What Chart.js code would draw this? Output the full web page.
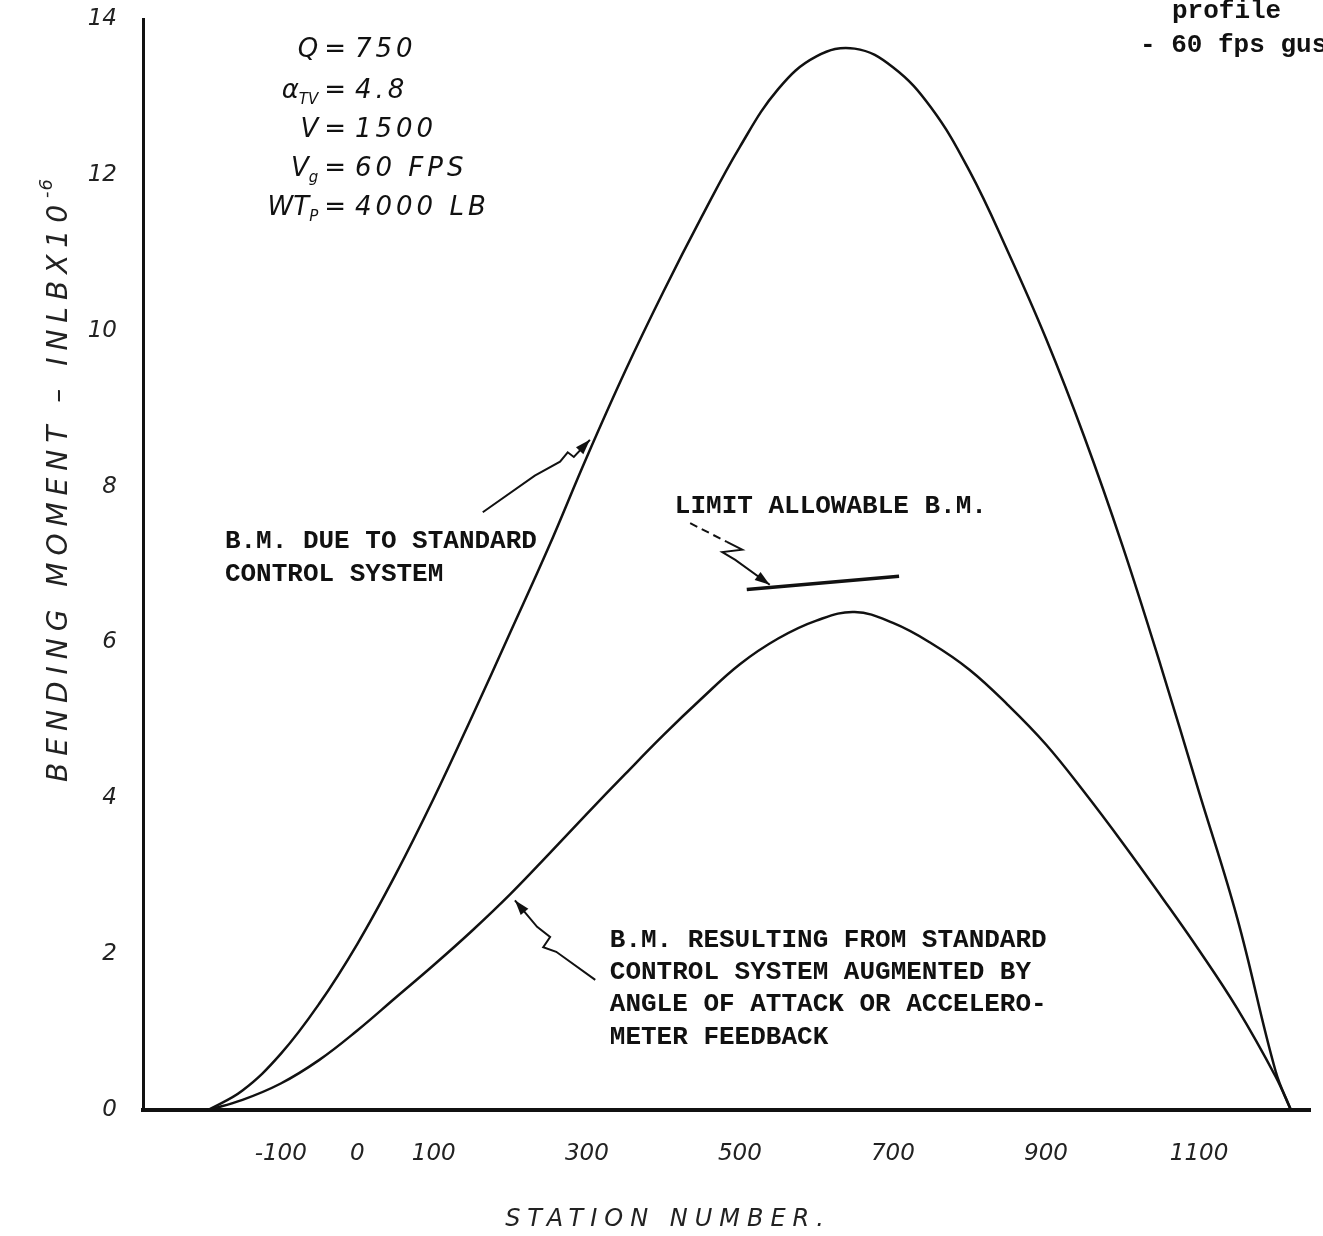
<!DOCTYPE html>
<html>
<head>
<meta charset="utf-8">
<script src="https://cdn.jsdelivr.net/npm/chart.js@4.4.1/dist/chart.umd.min.js"></script>
<style>
html, body { margin: 0; padding: 0; background: #fff; }
#wrap { width: 1323px; height: 1236px; }
</style>
</head>
<body>
<div id="wrap"><canvas id="chart-bm" width="1323" height="1236"></canvas></div>
<script>
// station numbers along the vehicle
var stations = [-195, -150, -100, -50, 0, 50, 100, 150, 200, 250, 300, 350, 400, 450, 500,
  550, 600, 650, 700, 750, 800, 850, 900, 950, 1000, 1050, 1100, 1150, 1200, 1220];
// bending moment, in-lb x 10^-6
var standardBM = [0, 0.25, 0.72, 1.36, 2.13, 3.02, 4.00, 5.05, 6.13, 7.22, 8.38, 9.48, 10.50, 11.46, 12.36,
  13.10, 13.52, 13.62, 13.38, 12.86, 12.05, 11.02, 9.90, 8.64, 7.24, 5.70, 4.08, 2.46, 0.50, 0];
var augmentedBM = [0, 0.13, 0.34, 0.64, 1.02, 1.44, 1.86, 2.30, 2.77, 3.28, 3.80, 4.31, 4.81, 5.28, 5.72,
  6.05, 6.28, 6.39, 6.25, 5.99, 5.65, 5.20, 4.69, 4.08, 3.43, 2.75, 2.05, 1.30, 0.43, 0];
var limitStations = [509, 708];
var limitBM = [6.68, 6.85];

var xTicks = [-100, 0, 100, 300, 500, 700, 900, 1100];
var yTicks = [0, 2, 4, 6, 8, 10, 12, 14];

var params = [
  { n: "Q", s: "", v: "750" },
  { n: "\u03B1", s: "TV", v: "4.8" },
  { n: "V", s: "", v: "1500" },
  { n: "V", s: "g", v: "60 FPS" },
  { n: "WT", s: "P", v: "4000 LB" }
];

function toPoints(xs, ys) {
  return xs.map(function (x, i) { return { x: x, y: ys[i] }; });
}

var handFont = '"DejaVu Sans", sans-serif';
var typeFont = '"Liberation Mono", "DejaVu Sans Mono", monospace';

var notes = {
  id: "notes",
  afterDatasetsDraw: function (chart) {
    var ctx = chart.ctx, sx = chart.scales.x, sy = chart.scales.y;
    function px(x) { return sx.getPixelForValue(x); }
    function py(y) { return sy.getPixelForValue(y); }

    function path(pts, dash) {
      ctx.save();
      ctx.strokeStyle = "#111";
      ctx.lineWidth = 2;
      ctx.setLineDash(dash || []);
      ctx.beginPath();
      pts.forEach(function (p, i) {
        if (i === 0) ctx.moveTo(px(p[0]), py(p[1]));
        else ctx.lineTo(px(p[0]), py(p[1]));
      });
      ctx.stroke();
      ctx.restore();
    }
    function head(from, to) {
      var x1 = px(from[0]), y1 = py(from[1]), x2 = px(to[0]), y2 = py(to[1]);
      var a = Math.atan2(y2 - y1, x2 - x1);
      ctx.save();
      ctx.fillStyle = "#111";
      ctx.beginPath();
      ctx.moveTo(x2, y2);
      ctx.lineTo(x2 - 15 * Math.cos(a) + 5 * Math.sin(a), y2 - 15 * Math.sin(a) - 5 * Math.cos(a));
      ctx.lineTo(x2 - 15 * Math.cos(a) - 5 * Math.sin(a), y2 - 15 * Math.sin(a) + 5 * Math.cos(a));
      ctx.closePath();
      ctx.fill();
      ctx.restore();
    }

    // arrows
    var upArrow = [[164, 7.67], [232, 8.14], [265, 8.32], [275, 8.44], [283, 8.38], [304, 8.60]];
    path(upArrow);
    head(upArrow[4], upArrow[5]);

    path([[435, 7.53], [483, 7.29]], [8, 5]);
    var limArrow = [[483, 7.29], [503, 7.19], [477, 7.16], [494, 7.06], [539, 6.74]];
    path(limArrow);
    head(limArrow[3], limArrow[4]);

    var lowArrow = [[311, 1.67], [260, 2.03], [243, 2.09], [252, 2.22], [235, 2.35], [206, 2.69]];
    path(lowArrow);
    head(lowArrow[4], lowArrow[5]);

    // typewritten labels
    ctx.save();
    ctx.fillStyle = "#111";
    ctx.textBaseline = "alphabetic";
    ctx.textAlign = "left";
    ctx.font = "bold 26px " + typeFont;
    ctx.fillText("B.M. DUE TO STANDARD", px(-173), py(7.21));
    ctx.fillText("CONTROL SYSTEM", px(-173), py(6.79));
    ctx.fillText("LIMIT ALLOWABLE B.M.", px(415), py(7.66));
    var low = ["B.M. RESULTING FROM STANDARD", "CONTROL SYSTEM AUGMENTED BY",
      "ANGLE OF ATTACK OR ACCELERO-", "METER FEEDBACK"];
    var lowY = [2.09, 1.68, 1.27, 0.85];
    low.forEach(function (t, i) { ctx.fillText(t, px(330), py(lowY[i])); });
    ctx.fillText("profile", 1172, 18);
    ctx.fillText("- 60 fps gust", 1140, 52);
    ctx.restore();

    // handwritten parameter block
    ctx.save();
    ctx.fillStyle = "#111";
    ctx.textBaseline = "alphabetic";
    var rows = [13.51, 12.99, 12.49, 11.99, 11.48];
    params.forEach(function (p, i) {
      var y = py(rows[i]);
      ctx.font = "italic 26px " + handFont;
      var wn = ctx.measureText(p.n).width;
      ctx.font = "italic 15px " + handFont;
      var ws = ctx.measureText(p.s).width;
      var start = px(-51) - wn - ws;
      ctx.font = "italic 26px " + handFont;
      ctx.textAlign = "left";
      ctx.fillText(p.n, start, y);
      ctx.font = "italic 15px " + handFont;
      ctx.fillText(p.s, start + wn, y + 6);
      ctx.font = "italic 26px " + handFont;
      ctx.textAlign = "center";
      ctx.fillText("=", px(-29), y);
      ctx.textAlign = "left";
      ctx.letterSpacing = "4px";
      ctx.fillText(p.v, px(-3), y);
      ctx.letterSpacing = "0px";
    });
    ctx.restore();

    // axis titles
    ctx.save();
    ctx.fillStyle = "#222";
    ctx.font = "italic 28px " + handFont;
    ctx.letterSpacing = "7px";
    ctx.translate(60, 480);
    ctx.rotate(-Math.PI / 2);
    var yt = "BENDING MOMENT \u2013 INLBX10";
    var w = ctx.measureText(yt).width;
    ctx.textAlign = "left";
    ctx.textBaseline = "middle";
    ctx.fillText(yt, -w / 2 - 10, 0);
    ctx.font = "italic 18px " + handFont;
    ctx.letterSpacing = "1px";
    ctx.fillText("-6", w / 2 - 10, -13);
    ctx.restore();

    ctx.save();
    ctx.fillStyle = "#222";
    ctx.font = "italic 24px " + handFont;
    ctx.letterSpacing = "7px";
    ctx.textAlign = "center";
    ctx.textBaseline = "middle";
    ctx.fillText("STATION NUMBER.", 668, 1220);
    ctx.restore();
  }
};

new Chart(document.getElementById("chart-bm").getContext("2d"), {
  type: "line",
  data: {
    datasets: [{
      label: "B.M. due to standard control system",
      data: toPoints(stations, standardBM),
      borderColor: "#111",
      borderWidth: 2.5,
      pointRadius: 0,
      tension: 0.4,
      fill: false
    }, {
      label: "B.M. with augmented control system",
      data: toPoints(stations, augmentedBM),
      borderColor: "#111",
      borderWidth: 2.5,
      pointRadius: 0,
      tension: 0.4,
      fill: false
    }, {
      label: "Limit allowable B.M.",
      data: toPoints(limitStations, limitBM),
      borderColor: "#111",
      borderWidth: 3.5,
      pointRadius: 0,
      fill: false
    }]
  },
  options: {
    responsive: false,
    devicePixelRatio: 1,
    animation: false,
    layout: {
      padding: { left: 0, right: 13, top: 19, bottom: 0 }
    },
    plugins: {
      legend: { display: false },
      tooltip: { enabled: false }
    },
    scales: {
      x: {
        type: "linear",
        min: -280,
        max: 1245,
        afterBuildTicks: function (scale) {
          scale.ticks = xTicks.map(function (v) { return { value: v }; });
        },
        afterFit: function (scale) {
          scale.height = 126;
          scale.paddingLeft = 0;
          scale.paddingRight = 0;
        },
        grid: { display: false, drawTicks: false },
        border: { display: true, color: "#111", width: 4 },
        ticks: {
          autoSkip: false,
          maxRotation: 0,
          padding: 30,
          color: "#222",
          font: { size: 23, family: "DejaVu Sans", style: "italic" },
          callback: function (v) { return String(v); }
        }
      },
      y: {
        type: "linear",
        min: 0,
        max: 14,
        afterBuildTicks: function (scale) {
          scale.ticks = yTicks.map(function (v) { return { value: v }; });
        },
        afterFit: function (scale) {
          scale.width = 143;
          scale.paddingTop = 0;
          scale.paddingBottom = 0;
        },
        grid: { display: false, drawTicks: false },
        border: { display: true, color: "#111", width: 3 },
        ticks: {
          padding: 26,
          color: "#222",
          font: { size: 23, family: "DejaVu Sans", style: "italic" }
        }
      }
    }
  },
  plugins: [notes]
});
</script>
</body>
</html>
